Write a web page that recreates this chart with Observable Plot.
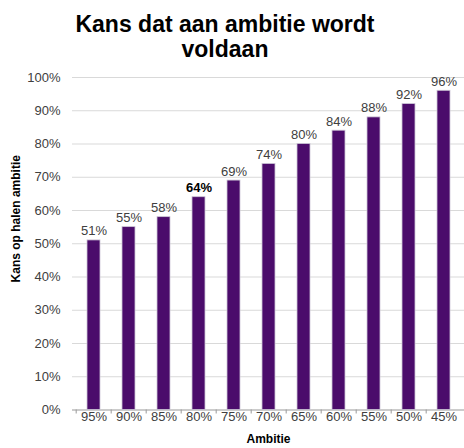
<!DOCTYPE html>
<html>
<head>
<meta charset="utf-8">
<script src="https://cdn.jsdelivr.net/npm/d3@7"></script>
<script src="https://cdn.jsdelivr.net/npm/@observablehq/plot@0.6"></script>
<style>
  body { margin: 0; background: #fff; }
  #title { width: 450px; height: 65px; box-sizing: border-box; padding-top: 12px; text-align: center;
    font: bold 23px "Liberation Sans", Arial, sans-serif; line-height: 25px; color: #000; }
  #chart svg { display: block; }
</style>
</head>
<body>
<div id="title">Kans dat aan ambitie wordt<br>voldaan</div>
<div id="chart"></div>
<script>
const categories = ["95%", "90%", "85%", "80%", "75%", "70%", "65%", "60%", "55%", "50%", "45%"];
const values = [51, 55, 58, 64, 69, 74, 80, 84, 88, 92, 96];
const highlighted = ["80%"];
const yTicks = [0, 10, 20, 30, 40, 50, 60, 70, 80, 90, 100];

const data = categories.map((c, i) => ({ambitie: c, kans: values[i], bold: highlighted.includes(c)}));

const W = 464, H = 383, mL = 72, mR = 0, mT = 12, mB = 38.5;
const step = (W - mL - mR) / categories.length;

const chart = Plot.plot({
  width: W,
  height: H,
  marginLeft: mL,
  marginRight: mR,
  marginTop: mT,
  marginBottom: mB,
  style: {fontFamily: "'Liberation Sans', Arial, sans-serif", fontSize: "13px", color: "#404040", background: "#fff"},
  x: {domain: categories, paddingInner: 0.63, paddingOuter: 0.315, label: null},
  y: {domain: [0, 100], label: null},
  marks: [
    Plot.ruleY(yTicks.filter(d => d > 0), {stroke: "#d9d9d9", strokeWidth: 1}),
    Plot.ruleX(categories, {x: d => d, y1: 0, y2: -1.2, dx: -step / 2, stroke: "#999"}),
    Plot.ruleY([0], {stroke: "#999", strokeWidth: 1}),
    Plot.barY(data, {x: "ambitie", y: "kans", fill: "#4b0c6b", stroke: "#cdc6d6", strokeWidth: 0.8}),
    Plot.text(data.filter(d => !d.bold), {x: "ambitie", y: "kans", text: d => d.kans + "%", lineAnchor: "bottom", dy: -5, fill: "#404040", fontSize: 13}),
    Plot.text(data.filter(d => d.bold), {x: "ambitie", y: "kans", text: d => d.kans + "%", lineAnchor: "bottom", dy: -5, fill: "#000", fontWeight: "bold", fontSize: 13}),
    Plot.axisY({ticks: yTicks, tickFormat: d => d + "%", tickSize: 0, tickPadding: 12, label: null, fill: "#404040", fontSize: 13}),
    Plot.axisX({tickSize: 0, tickPadding: 2, label: null, fill: "#404040", fontSize: 13}),
    Plot.text(["Kans op halen ambitie"], {frameAnchor: "left", textAnchor: "middle", lineAnchor: "middle", rotate: -90, dx: -56, dy: -25, fontWeight: "bold", fontSize: 12, fill: "#000"}),
    Plot.text(["Ambitie"], {frameAnchor: "bottom", dy: 33, fontWeight: "bold", fontSize: 12, fill: "#000"})
  ]
});
document.getElementById("chart").appendChild(chart);
</script>
</body>
</html>
